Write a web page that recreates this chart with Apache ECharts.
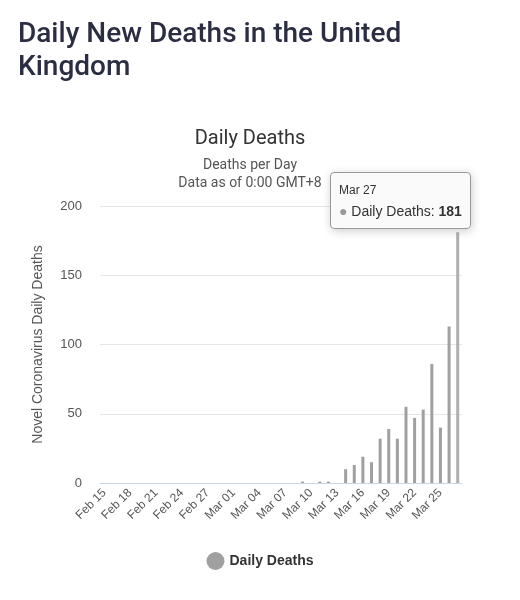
<!DOCTYPE html>
<html><head><meta charset="utf-8">
<script src="https://cdn.jsdelivr.net/npm/echarts@6/dist/echarts.min.js"></script>
<style>
body{margin:0;background:#fff;font-family:Roboto,sans-serif}
h1{margin:0;position:absolute;left:18px;top:16px;font-size:28px;line-height:33px;font-weight:500;color:#2b2d42;font-family:Roboto,sans-serif}
#c{position:absolute;left:0;top:0;width:520px;height:600px}
</style></head><body>
<div id="c"></div>
<h1>Daily New Deaths in the United<br>Kingdom</h1>
<script>
const dates = [];
for (let d = 15; d <= 29; d++) dates.push('Feb ' + d);
for (let d = 1; d <= 27; d++) dates.push('Mar ' + String(d).padStart(2, '0'));
// Feb 15..Mar 08 zeros, then Mar 09..Mar 27
const deaths = [
  0,0,0,0,0,0,0,0,0,0,0,0,0,0,0,
  0,0,0,0,0,0,0,0,
  1,0,1,1,0,10,13,19,15,32,39,32,55,47,53,86,40,113,181
];
const chart = echarts.init(document.getElementById('c'));
chart.setOption({
  animation: false,
  title: {
    text: 'Daily Deaths', left: 245, textAlign: 'center', top: 124,
    textStyle: { fontSize: 20, fontWeight: 'normal', color: '#333', fontFamily: 'Roboto' },
    subtext: 'Deaths per Day\nData as of 0:00 GMT+8', itemGap: 7,
    subtextStyle: { fontSize: 14, color: '#555', lineHeight: 18, fontFamily: 'Roboto' }
  },
  legend: {
    bottom: 25, left: 'center', icon: 'circle', itemWidth: 18, itemHeight: 18,
    textStyle: { fontSize: 14, fontWeight: 'bold', color: '#333' }
  },
  tooltip: {
    trigger: 'axis', axisPointer: { type: 'none' },
    backgroundColor: 'rgba(250,250,250,0.95)', borderColor: '#999', borderWidth: 1,
    padding: [6, 8], textStyle: { fontSize: 14, color: '#333' },
    formatter: p => `<span style="font-size:12px">${p[0].name}</span><br/><span style="color:#999">●</span> Daily Deaths: <b>${p[0].value}</b>`
  },
  grid: { left: 100, right: 58, top: 206, bottom: 117 },
  xAxis: {
    type: 'category', data: dates,
    axisLine: { lineStyle: { color: '#ccd6eb' } }, axisTick: { show: false },
    axisLabel: { interval: 2, rotate: 45, color: '#555', fontSize: 12 }
  },
  yAxis: {
    type: 'value', min: 0, max: 200, interval: 50,
    name: 'Novel Coronavirus Daily Deaths', nameLocation: 'middle', nameGap: 55,
    nameTextStyle: { fontSize: 14, color: '#555' },
    axisLabel: { color: '#555', fontSize: 13, margin: 18 },
    splitLine: { lineStyle: { color: '#e6e6e6' } }
  },
  series: [{
    name: 'Daily Deaths', type: 'bar', data: deaths, barWidth: 3,
    itemStyle: { color: '#a0a0a0' }
  }]
});
chart.dispatchAction({ type: 'showTip', seriesIndex: 0, dataIndex: deaths.length - 1, position: [330, 172] });
</script>
</body></html>
